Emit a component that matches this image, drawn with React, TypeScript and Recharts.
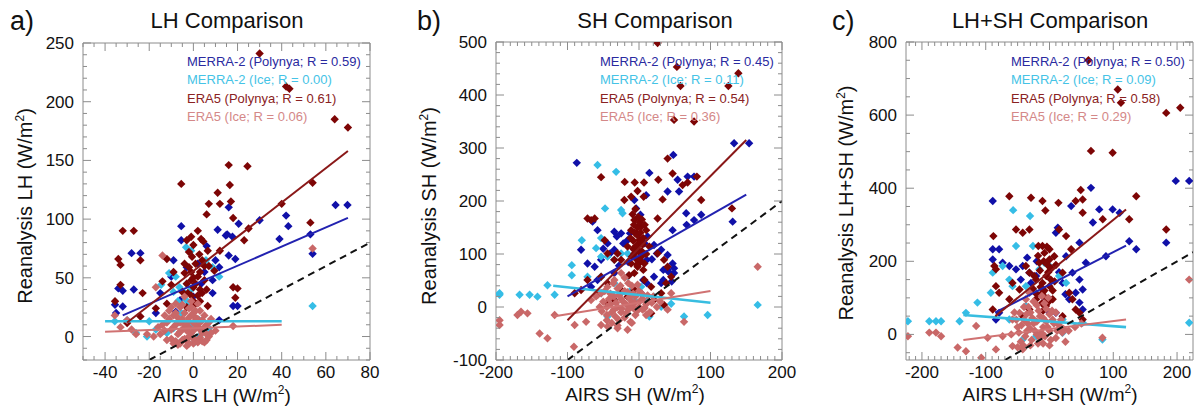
import React from "react";
import { ScatterChart, Scatter, XAxis, YAxis } from "recharts";

/* ---------- data ---------- */
type P = [number, number];

// a) LH
const A_MERRA_POLY: P[] = [
  [64.4, 112], [69.8, 112], [42, 103], [43, 94], [39, 83], [53, 87], [54, 70.5], [30, 99],
  [16, 110], [20.5, 96], [15.3, 87], [17.7, 85], [14.7, 86], [11, 91], [6, 77], [-5.5, 94],
  [-5.5, 82], [16, 69], [19, 66], [11.7, 59], [8.7, 48], [10, 65], [5, 55], [2, 62], [-3, 59],
  [-9, 65], [-28, 71], [-24, 71], [-34, 41], [-32, 39], [-27, 40], [-35.5, 27], [-32, 25.6],
  [-35, 20], [-15, 37], [-10, 51], [0, 34], [3.5, 45], [8.7, 37], [18, 26], [20, 26],
  [11.7, 14], [-6, 31], [-17, 20], [-8, 21],
];
const A_MERRA_ICE: P[] = [
  [54, 26], [-35.6, 13], [-30, 14], [-20, 13], [-26, 3], [-3.3, 76], [-1, 73], [-11, 54],
  [-8, 51], [-14.6, 44], [-6.3, 42], [-4, 37], [5.7, 65], [8.7, 59], [11.7, 51], [-3.3, 31],
  [-2.5, 26], [-5.5, 20], [-9, 7], [2.7, 0.3], [4, 6], [-12, 3], [-6, -5], [0.5, -5], [7, 7],
  [-17, 6], [-21, 0], [2.7, 14], [-7, 12], [-1, 10], [-7, 30], [-3, 45], [-9, 38], [-1, 40],
];
const A_ERA5_POLY: P[] = [
  [30, 241], [42, 213], [43.5, 211], [64, 185], [70, 178], [54, 131], [53, 97], [40, 113],
  [16, 146], [24.5, 145], [16.5, 129], [11, 122.5], [12, 113], [7, 113], [-5.5, 130], [17, 115],
  [18, 101], [6, 104], [-3, 82], [3.5, 83], [4.5, 81], [25, 92], [23, 82], [12, 73], [-32, 90],
  [-27, 90], [-34, 66], [-33, 61], [-24, 65], [-12, 66], [-0.6, 68], [1, 62], [2.7, 70],
  [6.5, 73], [-9, 55], [-14, 47], [-10, 44], [-4, 54], [-1, 48], [0, 42], [-2.5, 37], [-2, 59],
  [2, 51], [4, 37], [3, 30], [6.5, 26], [18, 42], [20, 41], [19, 33], [9.5, 56], [-35.5, 30],
  [-23, 37], [-17, 24], [-12, 28], [-30, 11.5], [-24, 17], [-33, 44], [0, 30], [1, 45],
  [-1, 55], [3, 40], [-3, 45], [5, 60], [2, 35], [0, 50], [-4, 62], [-2, 72], [0, 78], [2, 90],
  [4, 65], [-1, 35], [1, 28], [3, 55], [5, 48], [-3, 25], [-5, 38], [6, 40], [7, 60], [-1, 85],
];
const A_ERA5_ICE: P[] = [
  [54, 75], [-14, 69], [-17, 42], [-35.6, 18], [-30, 14], [-28, 6], [-26, 2], [-21, 2],
  [-18, 0], [18, 9], [-33, 8], [-8, 20], [-6, 25], [-5, 15], [-4, 10], [-3, 5], [-2, 0],
  [-1, 18], [0, 12], [1, -3], [2, 8], [3, 22], [4, 3], [5, -5], [-7, 2], [-9, 8], [-10, -2],
  [-6, -6], [-3, -8], [0, -6], [2, 28], [-1, 30], [6, 10], [7, 0], [-12, 12], [-11, 22],
  [-4, 34], [1, 16], [3, -1], [-5, 6], [-2, 24], [8, 15], [-8, -4], [-14, 10], [-15, 2],
  [10, 5], [-6, 12], [-2, 8], [4, 14], [0, 20], [-4, -2], [-13, 5], [-12, -3], [-11, 15],
  [-10, 25], [-9, 18], [-8, 10], [-8, 28], [-7, -7], [-7, 16], [-6, 4], [-5, -3], [-5, 27],
  [-4, 20], [-3, 12], [-3, -4], [-2, 16], [-2, -6], [-1, 3], [-1, 25], [0, 5], [0, -2], [1, 10],
  [1, 22], [2, -5], [2, 15], [3, 6], [3, 12], [4, -4], [5, 8], [5, 18], [6, 2], [6, -3],
  [-13, 18], [-10, 6], [7, 12], [-9, -6], [-16, 8], [8, 3],
];
const A_FIT_MERRA_POLY: P[] = [[-32, 18], [70, 101]];
const A_FIT_MERRA_ICE: P[] = [[-40, 13], [40, 13]];
const A_FIT_ERA5_POLY: P[] = [[-30, 12], [70, 158]];
const A_FIT_ERA5_ICE: P[] = [[-40, 4], [40, 10]];
const A_ONE_TO_ONE: P[] = [[-20, -20], [80, 80]];

// b) SH
const B_MERRA_POLY: P[] = [
  [133, 309], [154, 309], [48, 287], [14.5, 253], [54, 240], [68, 246], [77, 246], [40, 218],
  [56, 218], [10, 211], [-87, 272], [-6.5, 202], [-4, 186], [2, 174], [66, 177], [66.6, 155],
  [87, 174], [131, 161], [77, 164], [47, 145], [-65, 161], [-58, 145], [-34.5, 142], [-25, 139],
  [-16, 126], [-31, 133], [-22, 120], [-12.6, 139], [-40.5, 101], [12, 133], [21, 117],
  [31, 108], [40, 98], [47, 82], [40, 70], [49, 64], [34, 70], [41, 67], [34, 51], [45.7, 48],
  [11, 45], [6, 51], [11, 89], [25, 101], [-44, 120], [-34.5, 108], [-53, 89], [-62, 76],
  [-72, 82], [-81, 108], [3, 95], [-6.5, 108], [-58, 51], [-67, 38], [21, 57], [31, 45],
  [3, 26], [-34.5, 64], [49, 73], [-15, 85], [-28, 78], [8, 120], [-50, 110], [18, 90],
];
const B_MERRA_ICE: P[] = [
  [-58, 268], [-32, 255], [-47.5, 186], [-25, 183], [-23, 177], [-80, 126], [-53, 130],
  [-94, 79], [-94, 60], [-60, 111], [-53, 95], [-44, 95], [-34.5, 89], [-25, 101], [-16, 101],
  [-128, 41], [-195, 26], [-195, 23], [-167, 23], [-153, 23], [-142, 19.5], [-118, 23],
  [166, 4], [96, -15], [63, -18], [14.5, -18], [45, 6], [-53, 57], [-34.5, 45], [-25, 26],
  [-6.5, 13], [-44, -18], [-34.5, 13], [-53, 26], [-16, 57], [3, 38], [21, 19.5], [31, 0.6],
  [-72, 57], [12, 13], [-11, 32],
];
const B_ERA5_POLY: P[] = [
  [26, 498], [53, 453], [58, 417], [125, 417], [139, 441], [49, 353], [77, 350], [40, 280],
  [47, 252], [61, 230], [68, 235], [81, 246], [87, 202], [130, 186], [27, 240], [-6, 235],
  [7, 235], [-2, 219], [-20, 236], [-53, 245], [-72, 167], [-67, 164], [-62, 167], [26, 167],
  [33, 203], [6.5, 208], [-11, 208], [-20.5, 202], [-6.5, 164], [2.8, 151], [-4, 139],
  [-11, 145], [0.5, 126], [10, 145], [14.5, 114], [-16, 114], [-6.5, 101], [2.8, 95], [-11, 82],
  [-2, 76], [7.5, 82], [-6.5, 64], [-25, 89], [-30, 101], [-48, 126], [-44, 101], [-34.5, 89],
  [-53, 57], [-44, 45], [-72, 51], [-81, 32], [-90, 26], [26, 101], [35, 89], [40, 76],
  [45, 57], [38, 45], [31, 26], [21, 13], [7.5, 51], [17, 38], [-6.5, 32], [-16, 19.5],
  [-25, 32], [-58, 23], [-34.5, 13], [-44, 7], [35, 4], [17, -12], [-3, 110], [0, 120],
  [4, 105], [-8, 125], [2, 85], [-5, 92], [6, 130], [-2, 150], [1, 160], [-9, 175],
  [-8, 110], [-4, 115], [0, 105], [3, 98], [-6, 140], [-2, 135], [2, 140], [5, 118], [-10, 95],
  [-1, 170], [4, 165], [-5, 185], [8, 155], [-12, 130], [1, 88], [-3, 80], [6, 70], [-14, 60],
  [10, 100], [-7, 155],
];
const B_ERA5_ICE: P[] = [
  [166, 76], [63, -28], [-195, -25], [-195, -34], [-165, -9], [-156, -12], [-170, -15],
  [-139, -50], [-128, -59], [-118, -15], [-91, -75], [-90, -34], [-74, -28], [-53, -34],
  [-44, -37], [-30, -40], [-16, -43], [-67, 13], [-53, 26], [-44, 38], [-34.5, 51], [-25, 64],
  [45, 26], [-50, 10], [-40, 5], [-35, 20], [-30, 0], [-25, 15], [-20, 30], [-15, -5],
  [-10, 10], [-5, 20], [0, 0], [5, 15], [10, 5], [15, -10], [-45, -15], [-20, -20], [-30, 35],
  [-10, 40], [0, 30], [-40, 25], [-55, 0], [20, 20], [30, 10], [-5, -15], [-25, -10],
  [-15, 45], [5, -5], [-35, -5], [-60, 20], [40, -5], [-28, -25], [-12, -28], [-38, -30],
  [-18, 5], [-8, -2], [12, 22], [-45, 0], [-42, 15], [-38, -10], [-32, 8], [-28, 22],
  [-24, -3], [-22, 10], [-18, -12], [-14, 18], [-12, 0], [-8, 25], [-6, 8], [-3, -8], [2, 12],
  [4, 25], [8, -2], [-48, 30], [-52, -8], [-33, -18], [-26, 40], [-16, 28], [-2, 42], [10, -15],
  [-36, 45], [-20, 55], [-30, -35], [-10, -30], [-45, -25], [25, 0], [18, 8],
];
const B_FIT_MERRA_POLY: P[] = [[-100, 20], [150, 212]];
const B_FIT_MERRA_ICE: P[] = [[-120, 40], [100, 8]];
const B_FIT_ERA5_POLY: P[] = [[-100, -25], [150, 315]];
const B_FIT_ERA5_ICE: P[] = [[-120, -18], [100, 30]];
const B_ONE_TO_ONE: P[] = [[-100, -100], [200, 200]];

// c) LH+SH
const C_MERRA_POLY: P[] = [
  [198, 420], [219, 420], [183, 251], [65, 401], [34, 351], [-89, 365], [78, 342], [99, 342],
  [110, 333], [125, 255], [136, 233], [88.5, 214], [13, 292], [10, 278], [68, 306], [26, 214],
  [47, 251], [-89, 233], [-79, 233], [-89, 205], [-73.5, 196], [-63, 187], [-52.5, 178],
  [-42, 187], [-31.5, 169], [-21, 160], [-29, 141], [36, 169], [47, 150], [52, 123], [41, 114],
  [31, 96], [47, 87], [52, 68], [10, 59], [0, 59], [-79, 59], [-84, 41], [-11, 105], [0, 96],
  [20.5, 141], [57, 196], [-20, 200], [-35, 210], [15, 170], [-45, 150], [25, 110],
];
const C_MERRA_ICE: P[] = [
  [-57, 340], [-30.5, 324], [219, 32], [83, -14], [20.5, 4.6], [-222, 36], [-188.5, 36],
  [-178, 36], [-170, 36], [-141, 36], [-131, 59], [-113, 87], [-92, 114], [-89, 169],
  [-73.5, 187], [-63, 150], [-58, 132], [-52.5, 242], [-26, 242], [-37, 132], [-31.5, 114],
  [-21, 114], [-16, 178], [-8, 196], [0, 187], [-37, 78], [-42, 50], [-63, 41], [-31.5, 14],
  [-42, -14], [-21, -5], [15, 160], [26, 141], [20.5, 41], [52, 32],
];
const C_ERA5_POLY: P[] = [
  [61, 750], [107, 670], [112, 634], [183, 606], [205, 620], [65, 502], [99, 497], [183, 287],
  [136, 378], [49, 395], [52, 369], [41, 365], [14, 360], [-6.5, 339], [-11, 365], [-29, 374],
  [-63, 378], [-88, 269], [-86.5, 187], [-84, 178], [-52.5, 287], [-42, 278], [-31.5, 287],
  [-17.5, 242], [-11, 242], [0, 233], [15, 287], [52, 333], [83.5, 315], [125, 315], [26, 269],
  [34, 233], [-37, 187], [-31.5, 169], [-21, 150], [-11, 141], [0, 132], [-11, 114], [-21, 96],
  [-5.5, 78], [5, 96], [0, 205], [7.5, 214], [-8, 223], [-16, 196], [20.5, 169], [31, 114],
  [36, 96], [41, 68], [-58, 141], [-47, 123], [-84, 132], [-79, 114], [-89, 68], [-63, 96],
  [-31.5, 68], [-42, 50], [47, 59], [52, 41], [20.5, 50], [-5, 160], [-15, 175], [-3, 190],
  [-8, 120], [2, 150], [-12, 85], [-6, 100], [-2, 170], [-9, 200], [-14, 130], [-4, 240],
  [3, 180], [-18, 215], [5, 120], [-20, 110], [-1, 90], [8, 145], [-24, 160], [10, 190],
  [-10, 65], [-26, 125],
];
const C_ERA5_ICE: P[] = [
  [219, 150], [83, -9], [-222, -5], [-188.5, 5], [-178, 5], [-170, -5], [-144, -36],
  [-131, -46], [-115, 23], [-107, -64], [-84, -41], [-58, -32], [-42, -41], [-97, -9],
  [-73.5, -5], [-58, 41], [-47, 59], [-37, 96], [-31.5, 114], [-50, 20], [-40, 40], [-35, 10],
  [-30, 60], [-25, 30], [-20, 0], [-15, 50], [-10, 20], [-5, 70], [0, 10], [5, 40], [10, -10],
  [15, 25], [-45, -20], [-30, -30], [-20, 80], [-10, -25], [0, 55], [-55, 60], [20, 5],
  [-40, 75], [-25, 90], [30, 10], [-15, -10], [10, 60], [40, 20], [-60, 0], [-5, 35],
  [25, -20], [50, 30], [-48, 5], [-44, 25], [-38, -5], [-34, 30], [-30, 15], [-27, 45],
  [-23, 10], [-20, 35], [-17, 65], [-13, 5], [-10, 45], [-7, -5], [-3, 20], [2, -15], [4, 65],
  [7, 30], [12, 10], [-52, 40], [-36, 55], [-28, -15], [-18, -25], [-8, 85], [-2, 100],
  [-33, 75], [-41, -30], [18, 40], [22, 15], [-12, 105], [0, -30], [-50, -35],
];
const C_FIT_MERRA_POLY: P[] = [[-85, 60], [120, 243]];
const C_FIT_MERRA_ICE: P[] = [[-135, 53], [120, 20]];
const C_FIT_ERA5_POLY: P[] = [[-85, 50], [120, 342]];
const C_FIT_ERA5_ICE: P[] = [[-135, -15], [120, 41]];
const C_ONE_TO_ONE: P[] = [[-70, -70], [225, 225]];

/* ---------- ticks ---------- */
const A_X_TICKS = [-50, -45, -40, -35, -30, -25, -20, -15, -10, -5, 0, 5, 10, 15, 20, 25, 30, 35, 40, 45, 50, 55, 60, 65, 70, 75, 80];
const A_X_MAJOR = [-40, -20, 0, 20, 40, 60, 80];
const A_Y_TICKS = [-20, -10, 0, 10, 20, 30, 40, 50, 60, 70, 80, 90, 100, 110, 120, 130, 140, 150, 160, 170, 180, 190, 200, 210, 220, 230, 240, 250];
const A_Y_MAJOR = [0, 50, 100, 150, 200, 250];

const B_X_TICKS = [-200, -190, -180, -170, -160, -150, -140, -130, -120, -110, -100, -90, -80, -70, -60, -50, -40, -30, -20, -10, 0, 10, 20, 30, 40, 50, 60, 70, 80, 90, 100, 110, 120, 130, 140, 150, 160, 170, 180, 190, 200];
const B_X_MAJOR = [-200, -100, 0, 100, 200];
const B_Y_TICKS = [-100, -80, -60, -40, -20, 0, 20, 40, 60, 80, 100, 120, 140, 160, 180, 200, 220, 240, 260, 280, 300, 320, 340, 360, 380, 400, 420, 440, 460, 480, 500];
const B_Y_MAJOR = [-100, 0, 100, 200, 300, 400, 500];

const C_X_TICKS = [-220, -210, -200, -190, -180, -170, -160, -150, -140, -130, -120, -110, -100, -90, -80, -70, -60, -50, -40, -30, -20, -10, 0, 10, 20, 30, 40, 50, 60, 70, 80, 90, 100, 110, 120, 130, 140, 150, 160, 170, 180, 190, 200, 210, 220];
const C_X_MAJOR = [-200, -100, 0, 100, 200];
const C_Y_TICKS = [-50, 0, 50, 100, 150, 200, 250, 300, 350, 400, 450, 500, 550, 600, 650, 700, 750, 800];
const C_Y_MAJOR = [0, 200, 400, 600, 800];

const A_LEGEND = ["MERRA-2 (Polynya; R = 0.59)", "MERRA-2 (Ice; R = 0.00)", "ERA5 (Polynya; R = 0.61)", "ERA5 (Ice; R = 0.06)"];
const B_LEGEND = ["MERRA-2 (Polynya; R = 0.45)", "MERRA-2 (Ice; R = 0.11)", "ERA5 (Polynya; R = 0.54)", "ERA5 (Ice; R = 0.36)"];
const C_LEGEND = ["MERRA-2 (Polynya; R = 0.50)", "MERRA-2 (Ice; R = 0.09)", "ERA5 (Polynya; R = 0.58)", "ERA5 (Ice; R = 0.29)"];

/* ---------- style ---------- */
const W = 1196;
const H = 411;
const FONT = '"Liberation Sans", Arial, Helvetica, sans-serif';
const FRAME = "#8c8c8c";
const MARK = ["#1010a8", "#35bde6", "#7d0505", "#c96868"];
const FIT = ["#2222b0", "#38bde0", "#8a1818", "#d07272"];
const TEXT = ["#2a2aa0", "#45c3e6", "#8a2222", "#d48888"];

const pts = (a: P[]) => a.map(([x, y]) => ({ x, y }));

const diamond = (fill: string) => (p: any) => {
  const { cx, cy } = p;
  const r = 4.2;
  return <path d={`M${cx},${cy - r}L${cx + r},${cy}L${cx},${cy + r}L${cx - r},${cy}Z`} fill={fill} />;
};
const noShape = () => <g />;

/* axes are 1px thick so recharts draws them; ticks point inward */
function tickFn(side: string, majors: number[], gap = 9) {
  return (p: any) => {
    const x = Number(p.x);
    const y = Number(p.y);
    const v = p.payload.value;
    const major = majors.includes(v);
    const len = major ? 8 : 4;
    let x2 = x, y2 = y;
    if (side === "bottom") y2 = y - len;
    if (side === "top") y2 = y + len;
    if (side === "left") x2 = x + len;
    if (side === "right") x2 = x - len;
    return (
      <g>
        <line x1={x} y1={y} x2={x2} y2={y2} stroke={FRAME} strokeWidth={1} />
        {major && side === "bottom" && (
          <text x={x} y={y + 18} textAnchor="middle" fontSize={17} fill="#111" fontFamily={FONT}>{v}</text>
        )}
        {major && side === "left" && (
          <text x={x - gap} y={y + 6} textAnchor="end" fontSize={17} fill="#111" fontFamily={FONT}>{v}</text>
        )}
      </g>
    );
  };
}

interface Panel {
  box: { left: number; right: number; top: number; bottom: number };
  xDomain: [number, number];
  yDomain: [number, number];
  xTicks: number[]; xMajor: number[];
  yTicks: number[]; yMajor: number[];
  series: P[][];
  fits: P[][];
  oneToOne: P[];
}

const PANELS: Panel[] = [
  {
    box: { left: 83, right: 370, top: 43, bottom: 360 },
    xDomain: [-50, 80], yDomain: [-20, 250],
    xTicks: A_X_TICKS, xMajor: A_X_MAJOR, yTicks: A_Y_TICKS, yMajor: A_Y_MAJOR,
    series: [A_MERRA_POLY, A_MERRA_ICE, A_ERA5_POLY, A_ERA5_ICE],
    fits: [A_FIT_MERRA_POLY, A_FIT_MERRA_ICE, A_FIT_ERA5_POLY, A_FIT_ERA5_ICE],
    oneToOne: A_ONE_TO_ONE,
  },
  {
    box: { left: 496, right: 782, top: 42, bottom: 360 },
    xDomain: [-200, 200], yDomain: [-100, 500],
    xTicks: B_X_TICKS, xMajor: B_X_MAJOR, yTicks: B_Y_TICKS, yMajor: B_Y_MAJOR,
    series: [B_MERRA_POLY, B_MERRA_ICE, B_ERA5_POLY, B_ERA5_ICE],
    fits: [B_FIT_MERRA_POLY, B_FIT_MERRA_ICE, B_FIT_ERA5_POLY, B_FIT_ERA5_ICE],
    oneToOne: B_ONE_TO_ONE,
  },
  {
    box: { left: 906, right: 1193, top: 42, bottom: 360 },
    xDomain: [-225, 225], yDomain: [-70, 800],
    xTicks: C_X_TICKS, xMajor: C_X_MAJOR, yTicks: C_Y_TICKS, yMajor: C_Y_MAJOR,
    series: [C_MERRA_POLY, C_MERRA_ICE, C_ERA5_POLY, C_ERA5_ICE],
    fits: [C_FIT_MERRA_POLY, C_FIT_MERRA_ICE, C_FIT_ERA5_POLY, C_FIT_ERA5_ICE],
    oneToOne: C_ONE_TO_ONE,
  },
];

const LABELS = [
  { tag: "a)", tagX: 10, title: "LH Comparison", titleX: 227, xl: "AIRS LH", xlX: 222, xlY: 402, yl: "Reanalysis LH", ylX: 32, ylY: 206, legX: 187, legend: A_LEGEND },
  { tag: "b)", tagX: 417, title: "SH Comparison", titleX: 655, xl: "AIRS SH", xlX: 635, xlY: 401, yl: "Reanalysis SH", ylX: 436, ylY: 206, legX: 600, legend: B_LEGEND },
  { tag: "c)", tagX: 832, title: "LH+SH Comparison", titleX: 1050, xl: "AIRS LH+SH", xlX: 1050, xlY: 401, yl: "Reanalysis LH+SH", ylX: 853, ylY: 203, legX: 1011, legend: C_LEGEND },
];

function PanelChart({ p }: { p: Panel }) {
  const { box } = p;
  return (
    <div style={{ position: "absolute", left: 0, top: 0 }}>
      <ScatterChart
        width={W}
        height={H}
        margin={{ top: box.top - 1, left: box.left - 1, right: W - box.right - 1, bottom: H - box.bottom - 1 }}
      >
        <XAxis
          dataKey="x" type="number" domain={p.xDomain} ticks={p.xTicks} interval={0}
          allowDataOverflow height={1} tickSize={0} tickMargin={0}
          axisLine={{ stroke: FRAME }} tickLine={false} tick={tickFn("bottom", p.xMajor)}
        />
        <XAxis
          xAxisId="top" orientation="top" dataKey="x" type="number" domain={p.xDomain}
          ticks={p.xTicks} interval={0} allowDataOverflow height={1} tickSize={0} tickMargin={0}
          axisLine={{ stroke: FRAME }} tickLine={false} tick={tickFn("top", p.xMajor)}
        />
        <YAxis
          dataKey="y" type="number" domain={p.yDomain} ticks={p.yTicks} interval={0}
          allowDataOverflow width={1} tickSize={0} tickMargin={0}
          axisLine={{ stroke: FRAME }} tickLine={false} tick={tickFn("left", p.yMajor)}
        />
        <YAxis
          yAxisId="right" orientation="right" dataKey="y" type="number" domain={p.yDomain}
          ticks={p.yTicks} interval={0} allowDataOverflow width={1} tickSize={0} tickMargin={0}
          axisLine={{ stroke: FRAME }} tickLine={false} tick={tickFn("right", p.yMajor)}
        />
        {p.series.map((s, i) => (
          <Scatter key={"s" + i} data={pts(s)} fill={MARK[i]} shape={diamond(MARK[i])} isAnimationActive={false} />
        ))}
        {[1, 3, 0, 2].map((i) => (
          <Scatter
            key={"f" + i}
            data={pts(p.fits[i])}
            fill={FIT[i]}
            line={{ stroke: FIT[i], strokeWidth: i === 1 ? 2.6 : 2, fill: "none" }}
            shape={noShape}
            isAnimationActive={false}
          />
        ))}
        <Scatter
          data={pts(p.oneToOne)}
          fill="#111"
          line={{ stroke: "#111", strokeWidth: 2, strokeDasharray: "7 5", fill: "none" }}
          shape={noShape}
          isAnimationActive={false}
        />
      </ScatterChart>
    </div>
  );
}

export default function App() {
  return (
    <div style={{ position: "absolute", left: 0, top: 0, width: W, height: H, background: "#fff" }}>
      {PANELS.map((p, i) => (
        <PanelChart key={i} p={p} />
      ))}
      <svg width={W} height={H} style={{ position: "absolute", left: 0, top: 0, pointerEvents: "none" }} fontFamily={FONT}>
        {LABELS.map((l, i) => (
          <g key={i}>
            <text x={l.tagX} y={30} fontSize={27} fill="#111">{l.tag}</text>
            <text x={l.titleX} y={28} fontSize={22} fill="#111" textAnchor="middle">{l.title}</text>
            <text x={l.xlX} y={l.xlY} fontSize={19} fill="#111" textAnchor="middle">
              {l.xl} (W/m<tspan dy={-8} fontSize={12}>2</tspan><tspan dy={8}>)</tspan>
            </text>
            <text
              x={l.ylX} y={l.ylY} fontSize={20} fill="#111" textAnchor="middle"
              transform={`rotate(-90 ${l.ylX} ${l.ylY})`}
            >
              {l.yl} (W/m<tspan dy={-8} fontSize={12}>2</tspan><tspan dy={8}>)</tspan>
            </text>
            {l.legend.map((t, k) => (
              <text key={k} x={l.legX} y={66 + k * 18.4} fontSize={13} fill={TEXT[k]}>{t}</text>
            ))}
          </g>
        ))}
      </svg>
    </div>
  );
}
